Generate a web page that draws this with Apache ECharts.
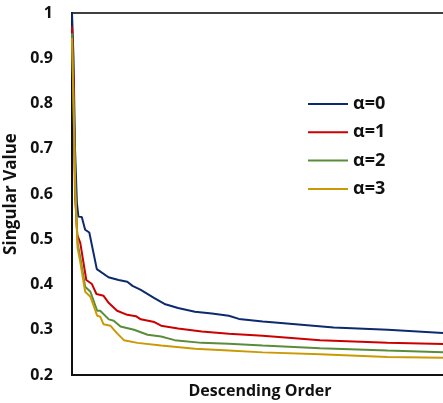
<!DOCTYPE html>
<html>
<head>
<meta charset="utf-8">
<script src="https://cdn.jsdelivr.net/npm/echarts@6/dist/echarts.min.js"></script>
<style>
  html, body { margin: 0; padding: 0; background: #fff; }
  #chart { width: 443px; height: 403px; }
</style>
</head>
<body>
<div id="chart"></div>
<script>
// rank position (0..100 across the axis) and singular value
const rankA0 = [0, 0.4, 0.8, 1.3, 1.7, 2.6, 3.5, 4.6, 6.6, 9.7, 12.4, 14.7, 16.1, 18.3, 21.9, 24.6, 28.2, 32.7, 37.2, 41.7, 44.4, 50.7, 54, 69.6, 84, 100]
const valA0 = [1.0, 0.9, 0.7, 0.58, 0.55, 0.549, 0.521, 0.515, 0.434, 0.416, 0.41, 0.406, 0.397, 0.388, 0.37, 0.357, 0.348, 0.34, 0.336, 0.331, 0.324, 0.318, 0.316, 0.305, 0.3, 0.292]

const rankA1 = [0, 0.4, 0.8, 1.4, 2.2, 3.8, 5.3, 6.5, 8.4, 9.8, 12, 14.7, 17, 18.3, 21.9, 23.7, 28.2, 34.5, 41.7, 50.7, 66, 83.9, 100]
const valA1 = [0.97, 0.85, 0.6, 0.51, 0.492, 0.41, 0.401, 0.379, 0.375, 0.359, 0.342, 0.333, 0.33, 0.323, 0.317, 0.309, 0.303, 0.296, 0.291, 0.287, 0.277, 0.271, 0.268]

const rankA2 = [0, 0.4, 0.9, 1.5, 2.2, 3.5, 4.9, 6.7, 7.5, 9.8, 11.1, 12.9, 16.5, 20.1, 23.7, 27.3, 34.5, 41.7, 50.7, 66, 83.9, 100]
const valA2 = [0.955, 0.8, 0.6, 0.49, 0.46, 0.395, 0.384, 0.342, 0.342, 0.323, 0.32, 0.307, 0.3, 0.289, 0.285, 0.277, 0.271, 0.269, 0.265, 0.259, 0.254, 0.25]

const rankA3 = [0, 0.4, 0.9, 1.5, 2.2, 3.5, 4.9, 6.7, 7.5, 8.4, 10.2, 12, 13.8, 17.4, 23.7, 32.7, 41.7, 50.7, 66, 83.9, 100]
const valA3 = [0.945, 0.8, 0.6, 0.48, 0.45, 0.384, 0.373, 0.331, 0.329, 0.312, 0.309, 0.292, 0.277, 0.271, 0.265, 0.258, 0.254, 0.25, 0.246, 0.24, 0.238]

const seriesNames = ['α=0', 'α=1', 'α=2', 'α=3']
const seriesColors = ['#0d2a6e', '#cc0000', '#5a8c3a', '#c99a06']
const ranks = [rankA0, rankA1, rankA2, rankA3]
const vals = [valA0, valA1, valA2, valA3]

const font = '"Open Sans", Lato, sans-serif'

const chart = echarts.init(document.getElementById('chart'))

const option = {
  animation: false,
  backgroundColor: '#fff',
  grid: {
    left: 72,
    top: 13,
    right: -5,
    bottom: 28,
    outerBoundsMode: 'none',
    containLabel: false,
    show: true,
    borderColor: '#404040',
    borderWidth: 2
  },
  legend: {
    orient: 'vertical',
    left: 302,
    top: 89,
    itemWidth: 40,
    itemHeight: 14,
    itemGap: 8.3,
    itemStyle: { opacity: 0 },
    data: seriesNames,
    textStyle: {
      fontFamily: font,
      fontWeight: 'bold',
      fontSize: 18,
      lineHeight: 20,
      color: '#111'
    }
  },
  xAxis: {
    type: 'value',
    min: 0,
    max: 100,
    name: 'Descending Order',
    nameLocation: 'middle',
    nameGap: 8,
    nameTextStyle: {
      fontFamily: font,
      fontWeight: 'bold',
      fontSize: 16,
      color: '#111'
    },
    axisLine: { show: true, lineStyle: { color: '#111', width: 2 } },
    axisTick: { show: false },
    axisLabel: { show: false },
    splitLine: { show: false }
  },
  yAxis: {
    type: 'value',
    min: 0.2,
    max: 1,
    interval: 0.1,
    name: 'Singular Value',
    nameLocation: 'middle',
    nameGap: 49,
    nameTextStyle: {
      fontFamily: font,
      fontWeight: 'bold',
      fontSize: 17,
      color: '#111'
    },
    axisLine: { show: true, lineStyle: { color: '#111', width: 2 } },
    axisTick: { show: false },
    axisLabel: {
      margin: 19,
      fontFamily: font,
      fontWeight: 'bold',
      fontSize: 16,
      color: '#111',
      formatter: v => String(Number(v.toFixed(1)))
    },
    splitLine: { show: false }
  },
  series: seriesNames.map((name, i) => ({
    name: name,
    type: 'line',
    symbol: 'none',
    data: ranks[i].map((r, j) => [r, vals[i][j]]),
    lineStyle: { color: seriesColors[i], width: 2 },
    itemStyle: { color: seriesColors[i] }
  }))
}

chart.setOption(option)
</script>
</body>
</html>
